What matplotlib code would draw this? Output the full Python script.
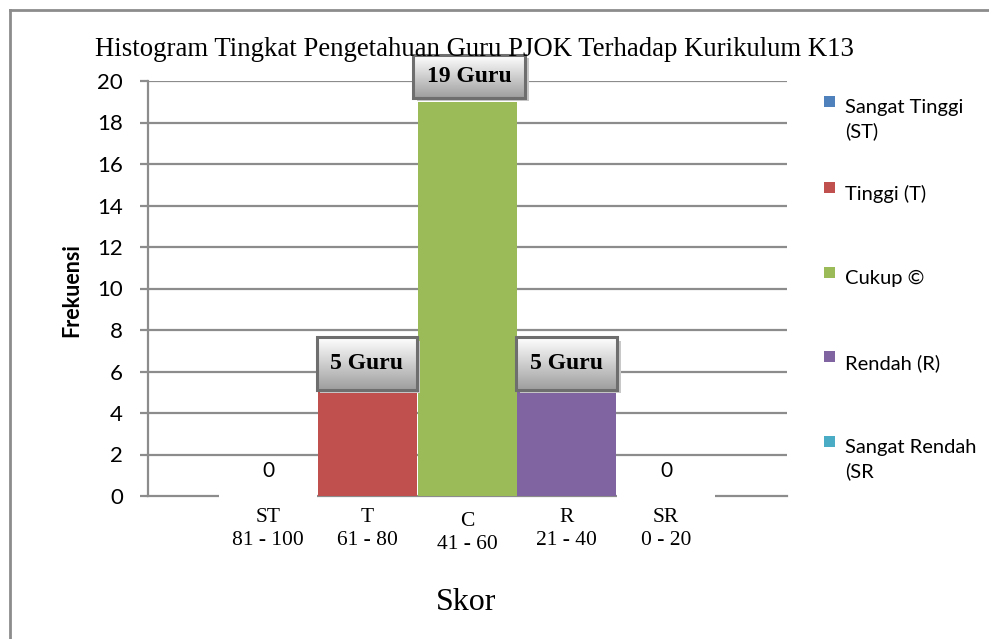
import numpy as np
import matplotlib
matplotlib.use("Agg")
import matplotlib.pyplot as plt
from matplotlib.patches import Rectangle
from matplotlib.lines import Line2D

# ---- data ----
categories = ["ST", "T", "C", "R", "SR"]
ranges = ["81 - 100", "61 - 80", "41 - 60", "21 - 40", "0 - 20"]
values = [0, 5, 19, 5, 0]
legend_labels = ["Sangat Tinggi\n(ST)", "Tinggi (T)", "Cukup ©", "Rendah (R)", "Sangat Rendah\n(SR"]
colors = ["#4F81BD", "#C0504D", "#9BBB59", "#8064A2", "#4BACC6"]
yticks = [0, 2, 4, 6, 8, 10, 12, 14, 16, 18, 20]
title = "Histogram Tingkat Pengetahuan Guru PJOK Terhadap Kurikulum K13"

W, H = 989, 639
fig = plt.figure(figsize=(W / 100, H / 100), dpi=100)
fig.patch.set_facecolor("white")

# axes placement (pixel measurements from reference)
ax_l, ax_r, ax_b, ax_t = 148, 787, 496, 81
ax = fig.add_axes([ax_l / W, 1 - ax_b / H, (ax_r - ax_l) / W, (ax_b - ax_t) / H])
xlim = (-1.206, 5.216)
ylim = (0, 20)

grid_c = "#8C8C8C"
x = np.arange(len(categories))

# gridlines
for yt in yticks[1:]:
    ax.axhline(yt, color=grid_c, lw=1.6, zorder=1)

# bars
ax.bar(x, values, width=0.995, color=colors, zorder=3, linewidth=0)

ax.set_xlim(*xlim)
ax.set_ylim(*ylim)
ax.set_yticks(yticks)
ax.set_yticklabels([str(v) for v in yticks], fontfamily="Lato", fontsize=16)
ax.tick_params(axis="y", direction="out", length=6, width=1.6, color=grid_c, pad=12)
ax.set_xticks([])
for s in ["top", "right"]:
    ax.spines[s].set_visible(False)
ax.spines["left"].set_color(grid_c)
ax.spines["left"].set_linewidth(1.6)
ax.spines["bottom"].set_color(grid_c)
ax.spines["bottom"].set_linewidth(1.6)
ax.spines["bottom"].set_zorder(2)

# x category labels
for i, (c, r) in enumerate(zip(categories, ranges)):
    dy = 4 if c == "C" else 0
    ax.text(i, -1.05 - dy / 20.75, c, ha="center", va="center", fontfamily="Liberation Serif",
            fontsize=15.5, clip_on=False)
    ax.text(i, -2.15 - dy / 20.75, r, ha="center", va="center", fontfamily="Liberation Serif",
            fontsize=15.5, clip_on=False)

# data labels
grad = np.linspace(1.0, 0.62, 64)[:, None]
grad_img = np.dstack([grad, grad, grad])
box_sizes = {1: (1.005, 2.55, 0.10), 2: (1.13, 2.07, 0.18), 3: (1.02, 2.55, 0.10)}
box_dx = {1: -0.01, 2: 0.02, 3: 0.0}
for i, v in enumerate(values):
    if v == 0:
        ax.add_patch(Rectangle((i - 0.49, -0.2), 0.98, 1.85, facecolor="white", edgecolor="none",
                               zorder=4, clip_on=False))
        ax.text(i, 1.2, str(v), ha="center", va="center", fontfamily="Lato", fontsize=15,
                zorder=5, clip_on=False)
    else:
        bw, bh, gap = box_sizes.get(i, (1.0, 2.5, 0.1))
        cx = i + box_dx.get(i, 0)
        x0, y0 = cx - bw / 2, v + gap
        # shadow
        ax.add_patch(Rectangle((x0 + 0.04, y0 - 0.16), bw, bh, facecolor="#C8C8C8",
                               edgecolor="none", zorder=5, clip_on=False))
        ax.imshow(grad_img, extent=(x0, x0 + bw, y0, y0 + bh), aspect="auto", zorder=6,
                  interpolation="bilinear", clip_on=False)
        ax.add_patch(Rectangle((x0, y0), bw, bh, facecolor="none", edgecolor="#6E6E6E",
                               lw=2.2, zorder=7, clip_on=False))
        ax.text(cx, y0 + bh / 2, f"{v} Guru", ha="center", va="center",
                fontfamily="Liberation Serif", fontweight="bold", fontsize=17, zorder=8,
                clip_on=False)

ax.set_xlim(*xlim)
ax.set_ylim(*ylim)

# axis titles
fig.text(72 / W, 1 - 290 / H, "Frekuensi", rotation=90, ha="center", va="center",
         fontfamily="Lato", fontweight="bold", fontsize=15.5)
fig.text(466 / W, 1 - 602 / H, "Skor", ha="center", va="center",
         fontfamily="Liberation Serif", fontsize=23)
fig.text(95 / W, 1 - 50 / H, title, ha="left", va="center",
         fontfamily="Liberation Serif", fontsize=19.3)

# legend
leg_y = [102, 188, 273, 357, 442]
for lbl, c, yy in zip(legend_labels, colors, leg_y):
    fig.patches.append(Rectangle((824 / W, 1 - (yy + 5) / H), 11 / W, 11 / H,
                                 transform=fig.transFigure, facecolor=c, edgecolor="none"))
    fig.text(845 / W, 1 - (yy - 3) / H, lbl, ha="left", va="top", fontfamily="Lato",
             fontsize=14.5, linespacing=1.4)

# outer frame
fig.add_artist(Line2D([10 / W, 1], [1 - 10 / H, 1 - 10 / H], color="#8C8C8C", lw=2,
                      transform=fig.transFigure))
fig.add_artist(Line2D([10 / W, 10 / W], [1 - 10 / H, 0], color="#8C8C8C", lw=2,
                      transform=fig.transFigure))

fig.savefig("out.png", dpi=100)
